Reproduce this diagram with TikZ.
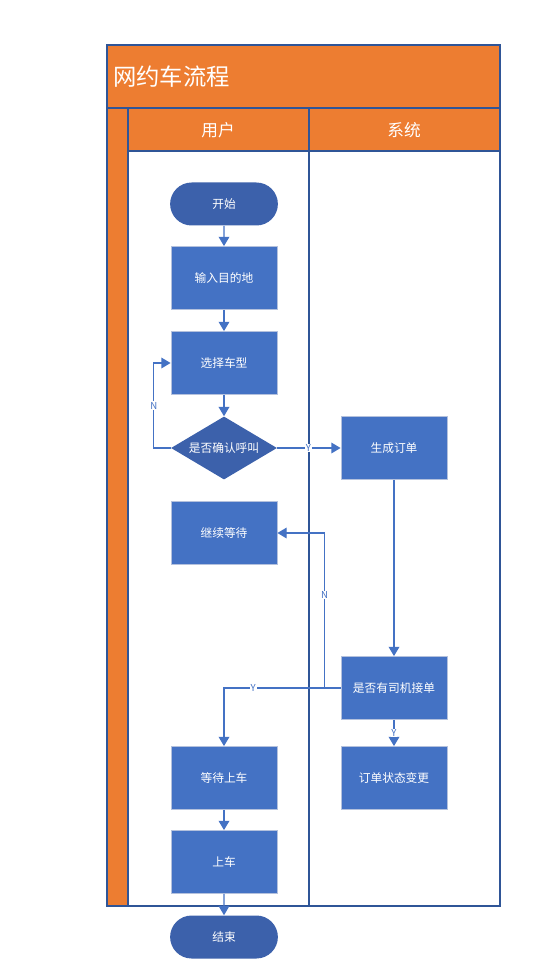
\documentclass[tikz,border=0pt]{standalone}
\usepackage{fontspec}
\newfontfamily\cjk{Noto Sans CJK SC}
\usepackage{tikz}
\usetikzlibrary{arrows.meta, shapes.geometric, shapes.misc}
\definecolor{laneorange}{HTML}{ED7D31}
\definecolor{laneline}{HTML}{2F5597}
\definecolor{boxblue}{HTML}{4472C4}
\definecolor{termblue}{HTML}{3C61AB}
\definecolor{boxedge}{HTML}{B4C1DD}
\tikzset{
>={Triangle[width=8pt,length=7pt]}, % filled arrow heads
lane/.style={draw=laneline, line width=1.1pt}, % swimlane frame
proc/.style={rectangle, draw=boxedge, line width=0.6pt, fill=boxblue, text=white, minimum width=79.5pt, minimum height=47.25pt, font=\cjk\fontsize{8.8}{10}\selectfont},
terminal/.style={rounded rectangle, fill=termblue, text=white, minimum width=87.5pt, minimum height=32.25pt, font=\cjk\fontsize{8.8}{10}\selectfont},
decision/.style={diamond, fill=termblue, text=white, inner sep=0pt, aspect=1.68, minimum width=79.5pt, minimum height=47.25pt, font=\cjk\fontsize{8.8}{10}\selectfont},
flow/.style={->, color=boxblue, line width=1.1pt},
yn/.style={fill=white, text=boxblue, inner sep=0.6pt, font=\cjk\fontsize{7.2}{8}\selectfont},
}

\begin{document}
\begin{tikzpicture}[x=0.75pt, y=-0.75pt]
        \useasboundingbox (0,0) rectangle (533,966);
        % lanes
        \fill[laneorange] (107,45) rectangle (500,151);
        \fill[laneorange] (107,151) rectangle (128,906);
        \draw[lane] (107,45) rectangle (500,906)
        (107,108) -- (500,108)
        (128,151) -- (500,151)
        (128,108) -- (128,906)
        (309,108) -- (309,906);
        \node[anchor=west, text=white, inner sep=0pt, font=\cjk\fontsize{17.5}{20}\selectfont] at (113,77) (title) {网约车流程};
        \node[text=white, font=\cjk\fontsize{12.5}{14}\selectfont] at (218,130) (hdrUser) {用户};
        \node[text=white, font=\cjk\fontsize{12.5}{14}\selectfont] at (404,130) (hdrSys) {系统};
        % steps
        \node[terminal] at (224,204) (start) {开始};
        \node[proc] at (224,278) (dest) {输入目的地};
        \node[proc] at (224,363) (choose) {选择车型};
        \node[decision] at (224,448) (confirm) {是否确认呼叫};
        \node[proc] at (394,448) (order) {生成订单};
        \node[proc] at (224,533) (keepwait) {继续等待};
        \node[proc] at (394,688) (driver) {是否有司机接单};
        \node[proc] at (394,778) (status) {订单状态变更};
        \node[proc] at (224,778) (waitcar) {等待上车};
        \node[proc] at (224,862) (board) {上车};
        \node[terminal] at (224,937) (stop) {结束};
        \draw[flow]
        (start) edge (dest)
        (dest) edge (choose)
        (choose) edge (confirm)
        (order) edge (driver)
        (waitcar) edge (board)
        (board) edge (stop)
        (confirm.west) -- ++(-17,0) |- node[yn, pos=0.25] {N} (choose.west);
        \draw[flow] (confirm.east) -- node[yn, pos=0.49] {Y} (order.west);
        \draw[flow] (driver.west) -- ++(-16,0) |- node[yn, pos=0.3] {N} (keepwait.east);
        \draw[flow] (driver.west) -| node[yn, pos=0.375] {Y} (waitcar.north);
        \draw[flow] (driver.south) -- node[yn] {Y} (status.north);
    \end{tikzpicture}
\end{document}
